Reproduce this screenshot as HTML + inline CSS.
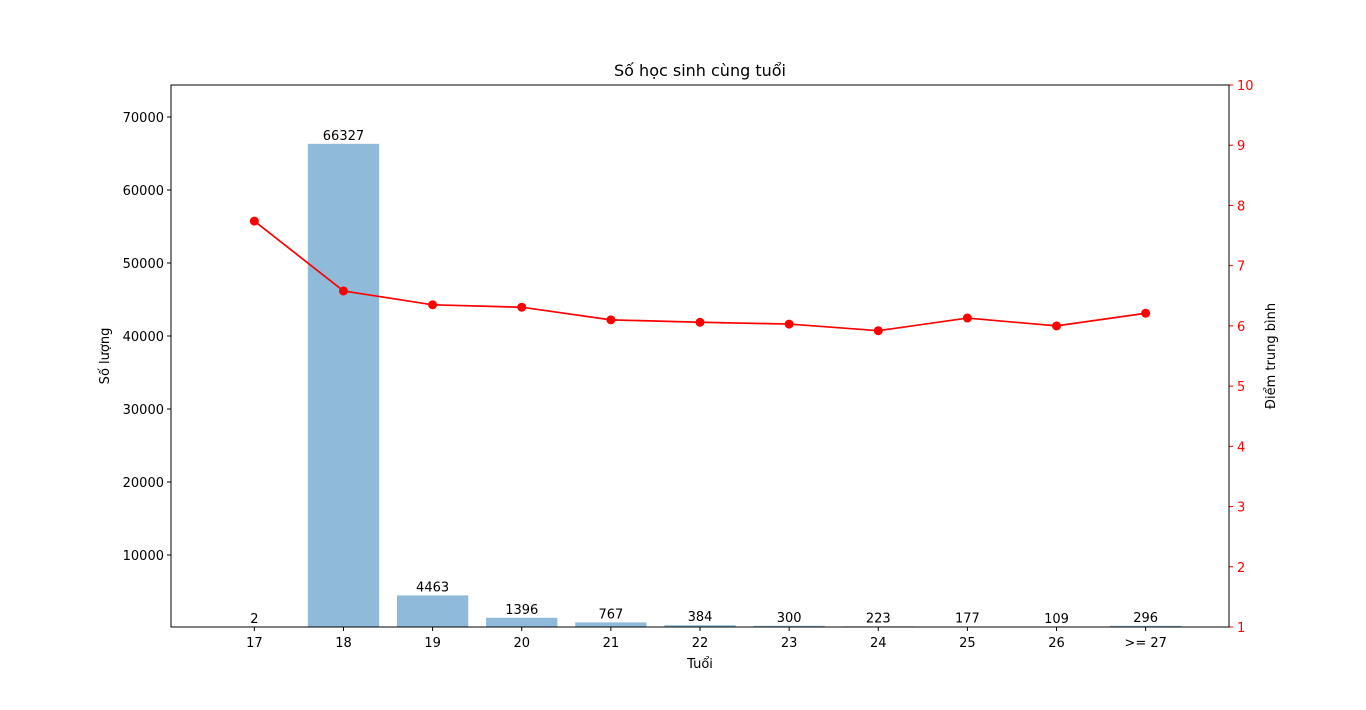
<!DOCTYPE html>
<html><head><meta charset="utf-8"><style>
body{margin:0;background:#fff;font-family:"Liberation Sans","DejaVu Sans",sans-serif}
</style></head><body>
<svg id="chart" width="1366" height="705" xmlns="http://www.w3.org/2000/svg" font-family="DejaVu Sans, Liberation Sans, sans-serif"></svg>
<script>
const categories=["17","18","19","20","21","22","23","24","25","26",">= 27"];
const counts=[2,66327,4463,1396,767,384,300,223,177,109,296];
const scores=[7.74,6.58,6.35,6.31,6.10,6.06,6.03,5.92,6.13,6.00,6.21];
const leftTicks=[10000,20000,30000,40000,50000,60000,70000];
const rightTicks=[1,2,3,4,5,6,7,8,9,10];

const L=171,R=1229,T=85,B=627;
const xMin=-0.935,xMax=10.935;
const x=i=>L+(i-xMin)/(xMax-xMin)*(R-L);
const yL=v=>628-v*0.0073;
const yR=v=>B-(v-1)/9*(B-T);
const svg=document.getElementById('chart');
const NS='http://www.w3.org/2000/svg';
function mk(tag,attrs,parent){const e=document.createElementNS(NS,tag);for(const k in attrs)e.setAttribute(k,attrs[k]);(parent||svg).appendChild(e);return e;}
function txt(s,attrs){const e=mk('text',attrs);e.textContent=s;return e;}
const step=x(1)-x(0),bw=step*0.8;
categories.forEach((c,i)=>{
  const b=mk('rect',{x:x(i)-bw/2,y:yL(counts[i]),width:bw,height:Math.max(0,B-yL(counts[i])),fill:'#8fbad9'});
  
  
  const t=txt(String(counts[i]),{x:x(i),y:Math.min(yL(counts[i]),B)-4,'text-anchor':'middle','font-size':13,fill:'#000'});
  
  
  mk('line',{x1:x(i),x2:x(i),y1:B,y2:B+4,stroke:'#000'});
  const xl=txt(c,{x:x(i),y:B+20,'text-anchor':'middle','font-size':13});
  
  
});
leftTicks.forEach(v=>{
  mk('line',{x1:L-4,x2:L,y1:yL(v),y2:yL(v),stroke:'#000'});
  const t=txt(String(v),{x:L-7,y:yL(v)+5,'text-anchor':'end','font-size':13});
  
  
});
rightTicks.forEach(v=>{
  mk('line',{x1:R,x2:R+4,y1:yR(v),y2:yR(v),stroke:'red'});
  const t=txt(String(v),{x:R+8,y:yR(v)+5,'font-size':13,fill:'red'});
  
  
});
const line=mk('polyline',{points:scores.map((s,i)=>x(i)+','+yR(s)).join(' '),fill:'none',stroke:'red','stroke-width':1.7});


scores.forEach((s,i)=>{
  const p=mk('circle',{cx:x(i),cy:yR(s),r:4.5,fill:'red'});
  
  
});
const frame=mk('rect',{x:L,y:T,width:R-L,height:B-T,fill:'none',stroke:'#000','stroke-width':1});


const title=txt('Số học sinh cùng tuổi',{x:(L+R)/2,y:76,'text-anchor':'middle','font-size':16});


const xt=txt('Tuổi',{x:(L+R)/2,y:668,'text-anchor':'middle','font-size':13});


const yt=txt('Số lượng',{x:0,y:0,'text-anchor':'middle','font-size':13,transform:'translate(109,356) rotate(-90)'});


const yt2=txt('Điểm trung bình',{x:0,y:0,'text-anchor':'middle','font-size':13,transform:'translate(1275,356) rotate(-90)'});


</script>
</body></html>
